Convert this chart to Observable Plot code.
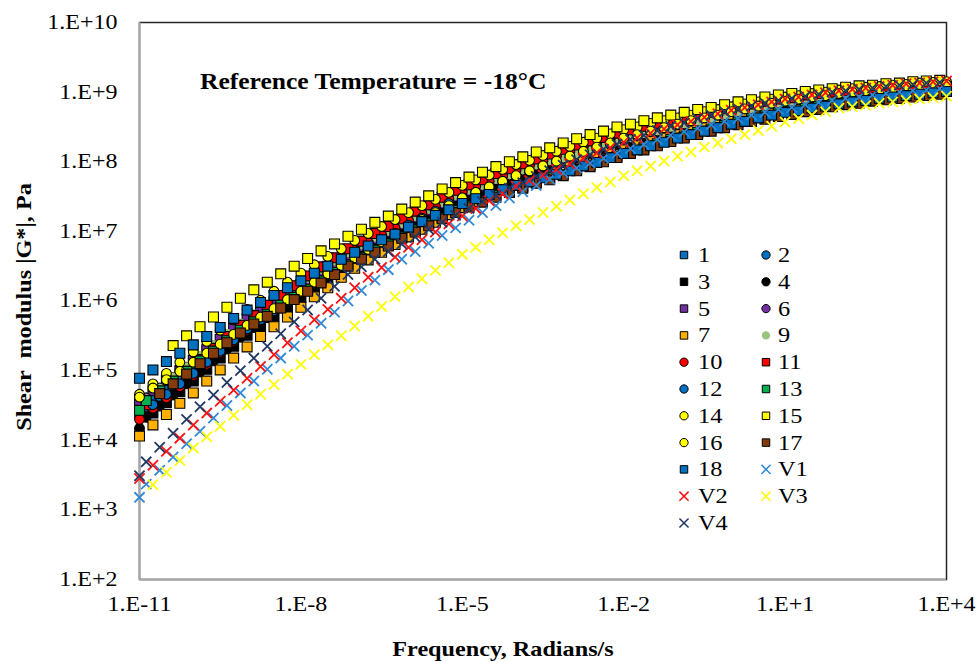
<!DOCTYPE html>
<html><head><meta charset="utf-8">
<script src="https://cdn.jsdelivr.net/npm/d3@7"></script>
<script src="https://cdn.jsdelivr.net/npm/@observablehq/plot@0.6"></script>
<style>
body{margin:0;background:#fff;}
#chart{position:relative;width:979px;height:662px;}
</style></head><body><div id="chart"></div>
<script>
// log10 of frequency (rad/s): two sampling grids used by the master curves
const logFreqA = [-11,-10.75,-10.5,-10.25,-10,-9.75,-9.5,-9.25,-9,-8.75,-8.5,-8.25,-8,-7.75,-7.5,-7.25,-7,-6.75,-6.5,-6.25,-6,-5.75,-5.5,-5.25,-5,-4.75,-4.5,-4.25,-4,-3.75,-3.5,-3.25,-3,-2.75,-2.5,-2.25,-2,-1.75,-1.5,-1.25,-1,-0.75,-0.5,-0.25,0,0.25,0.5,0.75,1,1.25,1.5,1.75,2,2.25,2.5,2.75,3,3.25,3.5,3.75,4];
const logFreqB = [-11,-10.875,-10.625,-10.375,-10.125,-9.875,-9.625,-9.375,-9.125,-8.875,-8.625,-8.375,-8.125,-7.875,-7.625,-7.375,-7.125,-6.875,-6.625,-6.375,-6.125,-5.875,-5.625,-5.375,-5.125,-4.875,-4.625,-4.375,-4.125,-3.875,-3.625,-3.375,-3.125,-2.875,-2.625,-2.375,-2.125,-1.875,-1.625,-1.375,-1.125,-0.875,-0.625,-0.375,-0.125,0.125,0.375,0.625,0.875,1.125,1.375,1.625,1.875,2.125,2.375,2.625,2.875,3.125,3.375,3.625,3.875];

// log10 of |G*| (Pa) for each sample
const s1 = [null,4.58,4.73,4.88,5.03,5.18,5.34,5.50,5.65,5.78,5.90,6.03,6.16,6.29,6.41,6.53,6.65,6.75,6.85,6.94,7.04,7.13,7.22,7.32,7.41,7.48,7.55,7.62,7.69,7.74,7.81,7.86,7.92,7.98,8.04,8.10,8.16,8.21,8.27,8.32,8.37,8.42,8.47,8.52,8.56,8.60,8.65,8.69,8.73,8.76,8.79,8.82,8.85,8.88,8.90,8.92,8.94,8.96,8.98,9.00,9.02];
const s2 = [4.33,4.48,4.63,4.79,4.94,5.10,5.26,5.42,5.58,5.72,5.85,5.98,6.11,6.25,6.37,6.50,6.62,6.73,6.84,6.94,7.05,7.15,7.25,7.35,7.45,7.54,7.61,7.69,7.76,7.83,7.90,7.97,8.02,8.08,8.14,8.20,8.26,8.31,8.37,8.42,8.47,8.51,8.56,8.60,8.64,8.68,8.72,8.76,8.80,8.82,8.86,8.88,8.91,8.93,8.95,8.97,8.99,9.01,9.03,9.04,9.06];
const s3 = [null,4.39,4.54,4.70,4.85,5.02,5.18,5.35,5.51,5.65,5.78,5.92,6.05,6.19,6.31,6.45,6.57,6.68,6.79,6.88,6.99,7.09,7.19,7.29,7.39,7.47,7.54,7.62,7.69,7.75,7.82,7.88,7.94,8.01,8.07,8.13,8.19,8.25,8.30,8.36,8.41,8.46,8.51,8.55,8.60,8.64,8.68,8.72,8.76,8.78,8.82,8.85,8.88,8.90,8.92,8.95,8.97,8.98,9.00,9.02,9.04];
const s4 = [4.17,4.33,4.49,4.65,4.81,4.98,5.14,5.31,5.48,5.62,5.76,5.90,6.04,6.18,6.31,6.44,6.57,6.68,6.79,6.89,7.00,7.11,7.21,7.31,7.41,7.49,7.56,7.65,7.72,7.79,7.86,7.92,7.99,8.05,8.11,8.18,8.24,8.29,8.34,8.40,8.45,8.49,8.54,8.58,8.63,8.67,8.71,8.75,8.79,8.81,8.85,8.87,8.90,8.93,8.95,8.97,8.99,9.00,9.02,9.04,9.06];
const s5 = [4.57,4.71,4.86,5.00,5.15,5.30,5.45,5.60,5.75,5.87,5.99,6.12,6.24,6.36,6.47,6.59,6.70,6.80,6.90,7.00,7.10,7.19,7.29,7.38,7.48,7.56,7.63,7.71,7.78,7.84,7.91,7.97,8.04,8.10,8.16,8.22,8.28,8.33,8.39,8.44,8.49,8.53,8.58,8.62,8.66,8.70,8.74,8.78,8.82,8.84,8.88,8.90,8.93,8.95,8.97,8.99,9.01,9.03,9.05,9.06,9.08];
const s6 = [null,4.61,4.75,4.90,5.05,5.20,5.36,5.51,5.66,5.79,5.92,6.05,6.17,6.30,6.42,6.54,6.66,6.78,6.89,6.99,7.10,7.20,7.30,7.40,7.50,7.58,7.65,7.74,7.81,7.88,7.95,8.01,8.08,8.15,8.21,8.26,8.32,8.37,8.43,8.47,8.52,8.57,8.61,8.65,8.69,8.73,8.77,8.81,8.84,8.87,8.90,8.93,8.95,8.97,8.99,9.01,9.03,9.05,9.07,9.08,9.09];
const s7 = [4.06,4.22,4.37,4.53,4.68,4.85,5.01,5.18,5.34,5.49,5.63,5.77,5.91,6.06,6.19,6.34,6.47,6.59,6.70,6.81,6.92,7.03,7.13,7.24,7.34,7.43,7.50,7.59,7.66,7.73,7.81,7.87,7.94,8.01,8.08,8.15,8.21,8.27,8.33,8.39,8.45,8.50,8.55,8.59,8.64,8.69,8.73,8.78,8.81,8.83,8.87,8.89,8.92,8.94,8.96,8.98,9.00,9.02,9.04,9.05,9.07];
const s9 = [null,4.59,4.74,4.90,5.05,5.21,5.37,5.53,5.68,5.81,5.94,6.08,6.21,6.33,6.46,6.58,6.70,6.81,6.92,7.01,7.12,7.22,7.32,7.42,7.52,7.60,7.67,7.75,7.82,7.89,7.96,8.02,8.06,8.12,8.18,8.24,8.30,8.35,8.41,8.45,8.50,8.55,8.59,8.63,8.68,8.72,8.76,8.80,8.83,8.85,8.89,8.91,8.94,8.96,8.98,9.00,9.02,9.04,9.06,9.07,9.08];
const s10 = [4.30,4.46,4.61,4.77,4.93,5.09,5.26,5.42,5.58,5.73,5.88,6.03,6.17,6.32,6.46,6.59,6.73,6.84,6.95,7.05,7.16,7.26,7.36,7.47,7.57,7.65,7.72,7.80,7.88,7.95,8.02,8.08,8.15,8.22,8.28,8.33,8.39,8.44,8.49,8.53,8.58,8.62,8.66,8.70,8.74,8.78,8.82,8.86,8.89,8.91,8.94,8.97,8.99,9.01,9.03,9.05,9.07,9.08,9.10,9.11,9.12];
const s11 = [null,4.51,4.67,4.83,4.99,5.16,5.32,5.49,5.65,5.79,5.94,6.08,6.22,6.36,6.49,6.62,6.75,6.86,6.97,7.07,7.18,7.29,7.38,7.49,7.59,7.67,7.74,7.83,7.90,7.97,8.04,8.11,8.18,8.24,8.30,8.35,8.41,8.46,8.51,8.55,8.60,8.64,8.68,8.71,8.76,8.80,8.83,8.87,8.90,8.92,8.96,8.98,9.00,9.02,9.04,9.06,9.08,9.09,9.11,9.12,9.13];
const s12 = [null,4.51,4.66,4.81,4.96,5.12,5.28,5.44,5.60,5.73,5.86,6.00,6.13,6.26,6.39,6.52,6.65,6.76,6.87,6.97,7.09,7.19,7.29,7.40,7.48,7.56,7.63,7.72,7.79,7.86,7.93,7.99,8.06,8.13,8.19,8.25,8.31,8.37,8.43,8.48,8.53,8.58,8.63,8.67,8.72,8.76,8.80,8.84,8.86,8.89,8.92,8.94,8.97,8.99,9.01,9.02,9.04,9.06,9.08,9.09,9.10];
const s13 = [4.43,4.57,4.71,4.85,4.99,5.14,5.28,5.43,5.58,5.70,5.81,5.94,6.05,6.17,6.29,6.41,6.52,6.62,6.73,6.82,6.92,7.02,7.11,7.20,7.30,7.37,7.44,7.52,7.58,7.64,7.71,7.77,7.82,7.89,7.95,8.02,8.08,8.14,8.20,8.26,8.32,8.37,8.42,8.47,8.52,8.57,8.62,8.66,8.70,8.73,8.77,8.80,8.83,8.85,8.87,8.90,8.92,8.94,8.96,8.98,9.00];
const s14 = [4.66,4.81,4.96,5.12,5.27,5.42,5.58,5.73,5.88,6.01,6.14,6.27,6.40,6.52,6.64,6.75,6.87,6.97,7.07,7.17,7.27,7.37,7.46,7.56,7.66,7.74,7.81,7.89,7.96,8.02,8.09,8.15,8.22,8.28,8.34,8.40,8.46,8.50,8.55,8.59,8.63,8.67,8.72,8.75,8.79,8.83,8.86,8.90,8.93,8.95,8.98,9.00,9.03,9.05,9.07,9.08,9.10,9.11,9.13,9.14,9.15];
const s15 = [null,null,null,5.36,5.50,5.63,5.77,5.91,6.04,6.16,6.27,6.39,6.50,6.61,6.72,6.82,6.93,7.03,7.13,7.22,7.32,7.42,7.51,7.61,7.70,7.78,7.85,7.93,8.00,8.07,8.14,8.20,8.27,8.33,8.39,8.44,8.50,8.54,8.59,8.63,8.67,8.71,8.75,8.78,8.82,8.86,8.89,8.93,8.96,8.98,9.01,9.03,9.05,9.07,9.09,9.10,9.12,9.13,9.15,9.16,9.17];
const s16 = [4.62,4.75,4.87,4.99,5.12,5.25,5.38,5.52,5.65,5.77,5.89,6.02,6.14,6.27,6.39,6.51,6.62,6.74,6.85,6.95,7.06,7.17,7.27,7.37,7.48,7.56,7.64,7.72,7.80,7.87,7.94,8.01,8.08,8.15,8.21,8.27,8.34,8.39,8.44,8.49,8.54,8.59,8.63,8.67,8.72,8.76,8.80,8.84,8.87,8.90,8.93,8.95,8.98,9.00,9.02,9.03,9.05,9.07,9.09,9.10,9.11];
const s17 = [null,null,4.67,4.81,4.95,5.10,5.25,5.40,5.54,5.67,5.78,5.90,6.02,6.14,6.26,6.38,6.50,6.60,6.70,6.79,6.90,6.99,7.08,7.18,7.27,7.35,7.42,7.49,7.56,7.62,7.69,7.74,7.80,7.87,7.93,8.00,8.06,8.12,8.17,8.23,8.29,8.34,8.39,8.44,8.49,8.53,8.58,8.61,8.65,8.68,8.72,8.75,8.79,8.82,8.84,8.87,8.89,8.91,8.93,8.95,8.97];
const s18 = [4.89,5.01,5.13,5.25,5.37,5.49,5.62,5.75,5.87,5.98,6.08,6.19,6.29,6.40,6.50,6.60,6.70,6.79,6.88,6.96,7.06,7.14,7.23,7.31,7.40,7.47,7.53,7.60,7.66,7.71,7.77,7.82,7.87,7.94,7.99,8.06,8.12,8.17,8.23,8.28,8.34,8.39,8.44,8.49,8.54,8.58,8.63,8.67,8.71,8.73,8.77,8.80,8.83,8.86,8.88,8.91,8.93,8.95,8.97,8.99,9.01];
const v1 = [3.18,3.37,3.57,3.76,3.95,4.13,4.32,4.50,4.68,4.85,5.02,5.18,5.35,5.51,5.68,5.84,6.00,6.15,6.30,6.45,6.60,6.71,6.83,6.94,7.05,7.16,7.27,7.37,7.48,7.57,7.66,7.75,7.84,7.91,7.98,8.05,8.12,8.19,8.25,8.32,8.38,8.43,8.48,8.53,8.58,8.62,8.67,8.71,8.75,8.78,8.82,8.85,8.88,8.91,8.93,8.96,8.98,9.00,9.02,9.03,9.05];
const v2 = [3.45,3.64,3.84,4.03,4.22,4.39,4.56,4.72,4.89,5.06,5.23,5.40,5.57,5.73,5.88,6.04,6.19,6.34,6.48,6.63,6.77,6.88,6.99,7.11,7.22,7.33,7.44,7.54,7.65,7.73,7.81,7.89,7.97,8.05,8.13,8.20,8.28,8.34,8.41,8.47,8.53,8.58,8.64,8.69,8.74,8.78,8.82,8.86,8.90,8.93,8.96,8.99,9.02,9.04,9.06,9.08,9.10,9.12,9.13,9.15,9.16];
const v3 = [null,3.36,3.54,3.71,3.89,4.05,4.20,4.36,4.51,4.66,4.80,4.95,5.09,5.23,5.37,5.50,5.64,5.78,5.92,6.06,6.20,6.32,6.44,6.55,6.67,6.77,6.88,6.98,7.08,7.17,7.27,7.36,7.45,7.54,7.63,7.71,7.80,7.87,7.94,8.01,8.08,8.14,8.21,8.27,8.33,8.39,8.45,8.51,8.57,8.62,8.67,8.72,8.77,8.79,8.81,8.84,8.86,8.88,8.90,8.92,8.94];
const v4 = [3.49,3.69,3.90,4.10,4.30,4.48,4.65,4.83,5.00,5.18,5.35,5.53,5.70,5.87,6.04,6.21,6.38,6.49,6.60,6.71,6.82,6.92,7.03,7.13,7.23,7.33,7.43,7.52,7.62,7.70,7.79,7.87,7.95,8.03,8.10,8.18,8.25,8.32,8.38,8.45,8.51,8.56,8.62,8.67,8.72,8.76,8.80,8.84,8.88,8.91,8.94,8.97,9.00,9.02,9.04,9.06,9.08,9.10,9.11,9.13,9.14];

const seriesNames = ["1","2","3","4","5","6","7","9","10","11","12","13","14","15","16","17","18","V1","V2","V3","V4"];
const seriesValues = [s1,s2,s3,s4,s5,s6,s7,s9,s10,s11,s12,s13,s14,s15,s16,s17,s18,v1,v2,v3,v4];
const seriesGrid = ["A","B","A","B","A","B","A","B","A","B","A","B","A","B","A","B","A","B","A","A","B"];
const xTicks = [1e-11,1e-8,1e-5,1e-2,1e1,1e4];
const yTicks = [1e2,1e3,1e4,1e5,1e6,1e7,1e8,1e9,1e10];

// styling (kept apart from the data)
const styleOf = {
  "1":{symbol:"square",color:"#0070c0"}, "2":{symbol:"circle",color:"#0070c0"},
  "3":{symbol:"square",color:"#000000"}, "4":{symbol:"circle",color:"#000000"},
  "5":{symbol:"square",color:"#7030a0"}, "6":{symbol:"circle",color:"#7030a0"},
  "7":{symbol:"square",color:"#ffb000"}, "9":{symbol:"circle",color:"#9bc37f",noEdge:true},
  "10":{symbol:"circle",color:"#ff0000"}, "11":{symbol:"square",color:"#ff0000"},
  "12":{symbol:"circle",color:"#0070c0"}, "13":{symbol:"square",color:"#00b050"},
  "14":{symbol:"circle",color:"#ffff00"}, "15":{symbol:"square",color:"#ffff00"},
  "16":{symbol:"circle",color:"#ffff00"}, "17":{symbol:"square",color:"#843c0c"},
  "18":{symbol:"square",color:"#0070c0"},
  "V1":{symbol:"times",color:"#2e8ad8"}, "V2":{symbol:"times",color:"#ff1010"},
  "V3":{symbol:"times",color:"#ffff00"}, "V4":{symbol:"times",color:"#1f3864"}
};

const fmtPow = d => { const e = Math.round(Math.log10(d)); return "1.E" + (e >= 0 ? "+" : "") + e; };
const FONT = "'Liberation Serif','Times New Roman',serif";

const marks = [
  Plot.frame({stroke:"#262626", strokeWidth:1.5}),
  Plot.ruleX([1e-11], {stroke:"#a6a6a6", strokeWidth:2}),
  Plot.ruleY([1e2], {stroke:"#a6a6a6", strokeWidth:2}),
  Plot.axisX(xTicks, {tickSize:0, tickPadding:17, tickFormat:fmtPow, label:null}),
  Plot.axisY(yTicks, {tickSize:0, tickPadding:22, tickFormat:fmtPow, label:null})
];
seriesNames.forEach((name, k) => {
  const st = styleOf[name];
  const grid = seriesGrid[k] === "A" ? logFreqA : logFreqB;
  const rows = [];
  seriesValues[k].forEach((v, i) => { if (v != null) rows.push({f: 10 ** grid[i], g: 10 ** v}); });
  if (st.symbol === "times") {
    marks.push(Plot.dot(rows, {x:"f", y:"g", symbol:"times", r:4.7, stroke:st.color, strokeWidth:1.8}));
  } else {
    marks.push(Plot.dot(rows, {x:"f", y:"g", symbol:st.symbol, r: st.symbol === "square" ? 5.6 : 4.9,
      fill:st.color, stroke: st.noEdge ? "none" : "#000", strokeWidth:1.1}));
  }
});

const plot = Plot.plot({
  width: 979, height: 662,
  marginLeft: 139, marginRight: 33, marginTop: 22, marginBottom: 83,
  x: {type:"log", domain:[1e-11, 1e4]},
  y: {type:"log", domain:[1e2, 1e10]},
  style: {fontFamily: FONT, fontSize: "20px", color: "#000", background: "#fff", overflow: "visible"},
  marks
});
document.getElementById("chart").appendChild(plot);

const svg = d3.select(plot);
function stretch(sel, k) {
  sel.each(function() {
    const w = this.getComputedTextLength();
    this.setAttribute("textLength", (w * k).toFixed(1));
    this.setAttribute("lengthAdjust", "spacingAndGlyphs");
  });
}
stretch(svg.selectAll('g[aria-label="x-axis tick label"] text'), 1.2);
stretch(svg.selectAll('g[aria-label="y-axis tick label"] text'), 1.2);

// axis titles and annotation
const ann = svg.append("g").attr("font-family", FONT).attr("font-weight", "bold").attr("fill", "#000");
const xt = ann.append("text").attr("x", 503).attr("y", 656).attr("text-anchor", "middle").attr("font-size", 22).text("Frequency, Radians/s");
const yt = ann.append("text").attr("transform", "translate(31,307) rotate(-90)").attr("text-anchor", "middle").attr("font-size", 22).text("Shear  modulus |G*|, Pa").style("white-space", "pre");
const rt = ann.append("text").attr("x", 200).attr("y", 89).attr("text-anchor", "start").attr("font-size", 23).text("Reference Temperature = -18°C");
stretch(xt, 1.1); stretch(yt, 1.1); stretch(rt, 1.11);

// legend
const lg = svg.append("g").attr("font-family", FONT).attr("font-size", 20).attr("fill", "#000").attr("text-anchor", "start");
seriesNames.forEach((name, k) => {
  const st = styleOf[name];
  const col = k % 2, row = Math.floor(k / 2);
  const cx = col ? 766 : 684, cy = 255 + row * 26.8;
  let type = d3.symbolSquare, size = 56;
  if (st.symbol === "circle") { type = d3.symbolCircle; size = 54; }
  if (st.symbol === "times") { type = d3.symbolTimes; size = 56; }
  const p = lg.append("path").attr("transform", `translate(${cx},${cy})`).attr("d", d3.symbol(type, size)());
  if (st.symbol === "times") p.attr("fill", "none").attr("stroke", st.color).attr("stroke-width", 1.5);
  else p.attr("fill", st.color).attr("stroke", st.noEdge ? "none" : "#000").attr("stroke-width", 1);
  const t = lg.append("text").attr("x", col ? 778 : 698).attr("y", cy + 7).attr("text-anchor", "start").text(name);
  stretch(t, 1.22);
});
</script></body></html>
